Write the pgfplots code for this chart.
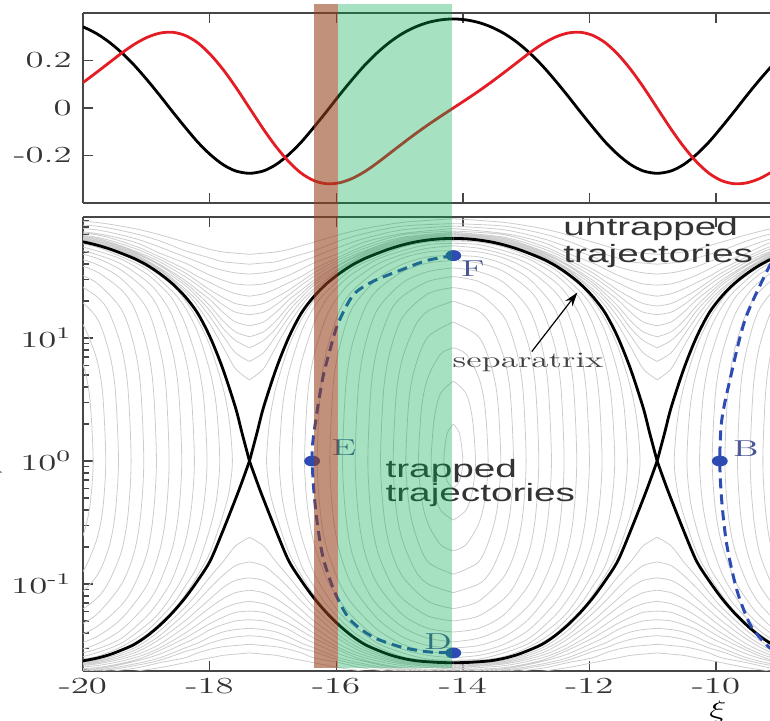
\documentclass[border=0pt]{standalone}
\usepackage{fontspec}
\newfontfamily\hvfont{Liberation Sans}
\usepackage{graphicx}
\usepackage{pgfplots}
\pgfplotsset{compat=1.18}
\usepackage{pgfplotstable}
\usetikzlibrary{arrows.meta}
\definecolor{cgray}{RGB}{204,204,204}
\definecolor{redline}{RGB}{228,28,36}
\definecolor{dblue}{RGB}{45,75,178}
\definecolor{lblue}{RGB}{72,86,150}
\definecolor{bandgreen}{RGB}{0,170,80}
\definecolor{bandbrown}{RGB}{150,65,30}
\definecolor{axgray}{RGB}{70,70,70}

% trapped orbits: half paths (r = distance from O-point), u = log10(v/v_s)
\pgfplotstableread{
r u
0 0.30
0.1 0.22
0.15 0
0.1 -0.16
0 -0.22
0 nan
0 0.65
0.2 0.55
0.3 0.35
0.35 0
0.3 -0.25
0.2 -0.40
0 -0.48
0 nan
0 0.92
0.2 0.87
0.4 0.68
0.5 0.44
0.55 0
0.5 -0.31
0.4 -0.51
0.2 -0.68
0 -0.73
0 nan
0 1.13
0.4 1.01
0.6 0.77
0.7 0.50
0.75 0
0.7 -0.36
0.6 -0.59
0.4 -0.82
0 -0.92
0 nan
0 1.30
0.4 1.22
0.6 1.10
0.8 0.84
0.9 0.55
0.95 0
0.9 -0.40
0.8 -0.65
0.6 -0.89
0.4 -1.00
0 -1.07
0 nan
0 1.41
0.4 1.36
0.8 1.17
1.0 0.89
1.1 0.58
1.15 0
1.1 -0.42
1.0 -0.70
0.8 -0.94
0.4 -1.14
0 -1.20
0 nan
0 1.50
0.4 1.46
0.8 1.34
1.0 1.21
1.2 0.92
1.3 0.59
1.35 0
1.3 -0.44
1.2 -0.73
1.0 -0.98
0.8 -1.12
0.4 -1.26
0 -1.30
0 nan
0 1.57
0.4 1.54
0.8 1.45
1.2 1.23
1.4 0.93
1.5 0.60
1.55 0
1.5 -0.44
1.4 -0.74
1.2 -1.00
0.8 -1.25
0.4 -1.36
0 -1.39
0 nan
0 1.63
0.4 1.61
0.8 1.54
1.2 1.39
1.4 1.24
1.6 0.94
1.7 0.60
1.75 0
1.7 -0.44
1.6 -0.75
1.4 -1.01
1.2 -1.17
0.8 -1.35
0.4 -1.44
0 -1.47
0 nan
0 1.67
0.4 1.66
0.8 1.60
1.2 1.48
1.6 1.24
1.8 0.92
1.9 0.60
1.95 0
1.9 -0.44
1.8 -0.73
1.6 -1.01
1.2 -1.28
0.8 -1.43
0.4 -1.50
0 -1.52
0 nan
0 1.71
0.4 1.70
0.8 1.65
1.2 1.55
1.6 1.38
1.8 1.22
2.0 0.90
2.1 0.57
2.15 0
2.1 -0.42
2.0 -0.71
1.8 -0.99
1.6 -1.16
1.2 -1.37
0.8 -1.49
0.4 -1.55
0 -1.56
0 nan
0 1.75
0.4 1.73
0.8 1.68
1.2 1.60
1.6 1.46
1.8 1.35
2.0 1.18
2.2 0.86
2.3 0.54
2.35 0
2.3 -0.39
2.2 -0.67
2.0 -0.96
1.8 -1.13
1.6 -1.26
1.2 -1.44
0.8 -1.53
0.4 -1.58
0 -1.60
0 nan
0 1.77
0.4 1.76
0.8 1.71
1.2 1.64
1.6 1.52
1.8 1.43
2.0 1.32
2.2 1.12
2.4 0.80
2.5 0.49
2.55 0
2.5 -0.35
2.4 -0.61
2.2 -0.91
2.0 -1.09
1.8 -1.23
1.6 -1.33
1.2 -1.48
0.8 -1.56
0.4 -1.61
0 -1.62
0 nan
0 1.79
0.4 1.78
0.8 1.74
1.2 1.66
1.6 1.56
2.0 1.38
2.2 1.25
2.4 1.05
2.6 0.72
2.7 0.43
2.75 0
2.7 -0.31
2.6 -0.54
2.4 -0.85
2.2 -1.02
2.0 -1.17
1.6 -1.38
1.2 -1.51
0.8 -1.59
0.4 -1.62
0 -1.63
0 nan
0 1.80
0.4 1.79
0.8 1.75
1.2 1.68
1.6 1.58
2.0 1.43
2.2 1.31
2.4 1.15
2.6 0.93
2.8 0.60
2.9 0.33
2.95 0
2.9 -0.24
2.8 -0.44
2.6 -0.74
2.4 -0.93
2.2 -1.09
2.0 -1.22
1.6 -1.41
1.2 -1.53
0.8 -1.60
0.4 -1.63
0 -1.64
}\tabTrapped

% untrapped orbits above the separatrix (half period)
\pgfplotstableread{
r u
0 1.82
0.8 1.77
1.4 1.66
1.8 1.55
2.2 1.38
2.4 1.26
2.6 1.11
2.8 0.93
3.0 0.75
3.22 0.66
0 nan
0 1.825
0.8 1.78
1.4 1.67
1.8 1.56
2.2 1.40
2.4 1.30
2.6 1.17
2.8 1.02
3.0 0.88
3.22 0.81
0 nan
0 1.83
0.8 1.785
1.4 1.68
1.8 1.57
2.2 1.43
2.4 1.33
2.6 1.22
2.8 1.08
3.0 0.98
3.22 0.92
0 nan
0 1.84
0.8 1.79
1.4 1.69
1.8 1.59
2.2 1.45
2.4 1.36
2.6 1.26
2.8 1.14
3.0 1.05
3.22 1.01
0 nan
0 1.844
0.8 1.80
1.4 1.70
1.8 1.60
2.2 1.47
2.4 1.39
2.6 1.31
2.8 1.21
3.0 1.13
3.22 1.10
0 nan
0 1.85
0.8 1.81
1.4 1.71
1.8 1.62
2.2 1.50
2.4 1.43
2.6 1.35
2.8 1.27
3.0 1.21
3.22 1.19
0 nan
0 1.86
0.8 1.82
1.4 1.73
1.8 1.64
2.2 1.53
2.4 1.46
2.6 1.39
2.8 1.33
3.0 1.28
3.22 1.26
0 nan
0 1.87
0.8 1.84
1.4 1.75
1.8 1.66
2.2 1.56
2.4 1.50
2.6 1.45
2.8 1.40
3.0 1.36
3.22 1.34
0 nan
0 1.89
0.8 1.85
1.4 1.78
1.8 1.69
2.2 1.61
2.4 1.56
2.6 1.51
2.8 1.47
3.0 1.44
3.22 1.43
0 nan
0 1.91
0.8 1.88
1.4 1.81
1.8 1.74
2.2 1.66
2.4 1.62
2.6 1.58
2.8 1.55
3.0 1.53
3.22 1.52
0 nan
0 1.93
0.8 1.91
1.4 1.85
1.8 1.79
2.2 1.71
2.4 1.68
2.6 1.65
2.8 1.62
3.0 1.61
3.22 1.60
0 nan
0 1.97
0.8 1.94
1.4 1.89
1.8 1.84
2.2 1.78
2.4 1.75
2.6 1.72
2.8 1.70
3.0 1.69
3.22 1.68
}\tabUpper

% untrapped orbits below the separatrix (half period)
\pgfplotstableread{
r u
0 -1.65
0.8 -1.62
1.4 -1.52
1.8 -1.38
2.2 -1.19
2.4 -1.07
2.6 -0.94
2.8 -0.82
3.0 -0.69
3.22 -0.62
0 nan
0 -1.66
0.8 -1.63
1.4 -1.54
1.8 -1.42
2.2 -1.24
2.4 -1.14
2.6 -1.03
2.8 -0.93
3.0 -0.85
3.22 -0.82
0 nan
0 -1.67
0.8 -1.64
1.4 -1.56
1.8 -1.45
2.2 -1.30
2.4 -1.21
2.6 -1.12
2.8 -1.03
3.0 -0.97
3.22 -0.95
0 nan
0 -1.68
0.8 -1.65
1.4 -1.58
1.8 -1.49
2.2 -1.35
2.4 -1.27
2.6 -1.19
2.8 -1.12
3.0 -1.07
3.22 -1.05
0 nan
0 -1.69
0.8 -1.664
1.4 -1.60
1.8 -1.52
2.2 -1.40
2.4 -1.33
2.6 -1.26
2.8 -1.20
3.0 -1.16
3.22 -1.14
0 nan
0 -1.70
0.8 -1.68
1.4 -1.62
1.8 -1.54
2.2 -1.44
2.4 -1.38
2.6 -1.32
2.8 -1.27
3.0 -1.23
3.22 -1.22
0 nan
0 -1.71
0.8 -1.69
1.4 -1.63
1.8 -1.57
2.2 -1.48
2.4 -1.43
2.6 -1.37
2.8 -1.33
3.0 -1.30
3.22 -1.29
0 nan
0 -1.72
0.8 -1.70
1.4 -1.65
1.8 -1.60
2.2 -1.52
2.4 -1.48
2.6 -1.43
2.8 -1.39
3.0 -1.37
3.22 -1.36
0 nan
0 -1.73
0.8 -1.71
1.4 -1.664
1.8 -1.62
2.2 -1.55
2.4 -1.52
2.6 -1.48
2.8 -1.45
3.0 -1.43
3.22 -1.42
0 nan
0 -1.745
0.8 -1.72
1.4 -1.685
1.8 -1.64
2.2 -1.60
2.4 -1.56
2.6 -1.53
2.8 -1.51
3.0 -1.50
3.22 -1.49
0 nan
0 -1.765
0.8 -1.75
1.4 -1.71
1.8 -1.68
2.2 -1.64
2.4 -1.62
2.6 -1.60
2.8 -1.58
3.0 -1.57
3.22 -1.56
}\tabLower

% separatrix (half period): upper branch, then lower branch
\pgfplotstableread{
r u
0 1.81
0.2 1.807
0.4 1.797
0.6 1.781
0.8 1.757
1.0 1.726
1.2 1.688
1.4 1.646
1.6 1.593
1.8 1.525
2.0 1.443
2.2 1.339
2.4 1.203
2.6 1.005
2.8 0.748
3.0 0.433
3.1 0.232
3.22 0
0 nan
0 -1.64
0.2 -1.638
0.4 -1.632
0.6 -1.623
0.8 -1.604
1.0 -1.576
1.2 -1.537
1.4 -1.491
1.6 -1.423
1.8 -1.337
2.0 -1.235
2.2 -1.115
2.4 -0.973
2.6 -0.811
2.8 -0.568
3.0 -0.308
3.1 -0.172
3.22 0
}\tabSep

\pgfplotsset{
  cont/.style={cgray, line width=0.4pt, smooth},
  sepst/.style={black, line width=1.4pt, smooth},
  every axis/.append style={
    scale only axis, width=343.5pt,
    xmin=-20, xmax=-9.147,
    axis y line*=left,
    axis line style={axgray, line width=0.9pt},
    every tick/.style={axgray, line width=0.7pt},
    major tick length=5pt, minor tick length=2.8pt,
    tick label style={font=\fontsize{11.5}{13}\selectfont, xscale=1.6, black!80},
    xtick={-20,-18,-16,-14,-12,-10},
    unbounded coords=jump,
    clip mode=individual,
  },
}

\begin{document}
\begin{tikzpicture}
% ---------------- bottom panel ----------------
\begin{axis}[
  at={(0pt,0pt)}, anchor=south west,
  height=227pt,
  ymin=-1.707, ymax=1.984,
  xticklabels={-20,-18,-16,-14,-12,-10},
  ytick={-1,0,1},
  yticklabels={10\textsuperscript{-1},10\textsuperscript{0},10\textsuperscript{1}},
  minor ytick={-1.699,-1.523,-1.398,-1.301,-1.222,-1.155,-1.097,-1.046,
    -0.699,-0.523,-0.398,-0.301,-0.222,-0.155,-0.097,-0.046,
    0.301,0.477,0.602,0.699,0.778,0.845,0.903,0.954,
    1.301,1.477,1.602,1.699,1.778,1.845,1.903,1.954},
]
% gray contours, three islands (O at -20.59, -14.15, -7.71)
\addplot[cont] table[x expr={\thisrow{r}-20.59}, y=u] {\tabTrapped};
\addplot[cont] table[x expr={\thisrow{r}-14.15}, y=u] {\tabTrapped};
\addplot[cont] table[x expr={-\thisrow{r}-14.15}, y=u] {\tabTrapped};
\addplot[cont] table[x expr={-\thisrow{r}-7.71}, y=u] {\tabTrapped};
\addplot[cont] table[x expr={\thisrow{r}-20.59}, y=u] {\tabUpper};
\addplot[cont] table[x expr={\thisrow{r}-14.15}, y=u] {\tabUpper};
\addplot[cont] table[x expr={-\thisrow{r}-14.15}, y=u] {\tabUpper};
\addplot[cont] table[x expr={-\thisrow{r}-7.71}, y=u] {\tabUpper};
\addplot[cont] table[x expr={\thisrow{r}-20.59}, y=u] {\tabLower};
\addplot[cont] table[x expr={\thisrow{r}-14.15}, y=u] {\tabLower};
\addplot[cont] table[x expr={-\thisrow{r}-14.15}, y=u] {\tabLower};
\addplot[cont] table[x expr={-\thisrow{r}-7.71}, y=u] {\tabLower};
% separatrix
\addplot[sepst] table[x expr={\thisrow{r}-20.59}, y=u] {\tabSep};
\addplot[sepst] table[x expr={\thisrow{r}-14.15}, y=u] {\tabSep};
\addplot[sepst] table[x expr={-\thisrow{r}-14.15}, y=u] {\tabSep};
\addplot[sepst] table[x expr={-\thisrow{r}-7.71}, y=u] {\tabSep};
% particle trajectories
\addplot[dblue, line width=1.5pt, dash pattern=on 5pt off 3pt, smooth] coordinates {
(-14.15,1.67)(-14.57,1.63)(-14.99,1.55)(-15.42,1.46)(-15.73,1.35)(-15.97,1.12)
(-16.10,0.90)(-16.21,0.68)(-16.30,0.41)(-16.37,0.15)(-16.38,0)(-16.35,-0.26)
(-16.29,-0.54)(-16.20,-0.80)(-16.02,-1.07)(-15.78,-1.29)(-15.42,-1.43)
(-14.99,-1.51)(-14.57,-1.55)(-14.15,-1.56)};
\addplot[dblue, line width=1.5pt, dash pattern=on 5pt off 3pt, smooth] coordinates {
(-9.12,1.60)(-9.18,1.56)(-9.54,1.15)(-9.78,0.66)(-9.91,0.33)(-9.94,0)
(-9.91,-0.32)(-9.83,-0.68)(-9.67,-1.05)(-9.46,-1.33)(-9.23,-1.48)(-9.12,-1.53)};
\addplot[only marks, mark=*, mark size=2.5pt, mark options={xscale=1.5, fill=dblue, draw=dblue}]
 coordinates {(-14.15,1.67)(-16.38,0)(-14.15,-1.56)(-9.94,0)};
% labels
\node[lblue, xscale=1.6, font=\fontsize{11.5}{13}\selectfont] at (axis cs:-13.84,1.56) {F};
\node[lblue, xscale=1.6, font=\fontsize{11.5}{13}\selectfont] at (axis cs:-15.88,0.106) {E};
\node[lblue, xscale=1.6, font=\fontsize{11.5}{13}\selectfont] at (axis cs:-14.39,-1.47) {D};
\node[lblue, xscale=1.6, font=\fontsize{11.5}{13}\selectfont] at (axis cs:-9.53,0.10) {B};
\node[anchor=base west, inner sep=0pt, xscale=1.55, black!80, font=\hvfont\fontsize{12.5}{14}\selectfont] at (axis cs:-12.42,1.837) {untrapped};
\node[anchor=base west, inner sep=0pt, xscale=1.55, black!80, font=\hvfont\fontsize{12.5}{14}\selectfont] at (axis cs:-12.42,1.61) {trajectories};
\node[anchor=base west, inner sep=0pt, xscale=1.55, black!80, font=\hvfont\fontsize{12.5}{14}\selectfont] at (axis cs:-15.23,-0.13) {trapped};
\node[anchor=base west, inner sep=0pt, xscale=1.55, black!80, font=\hvfont\fontsize{12.5}{14}\selectfont] at (axis cs:-15.23,-0.325) {trajectories};
\node[anchor=base, inner sep=0pt, xscale=1.6, black!75, font=\fontsize{11}{13}\selectfont] at (axis cs:-12.97,0.764) {separatrix};
\draw[black, line width=0.6pt, -{Stealth[length=7pt,width=4.5pt]}] (axis cs:-12.91,0.89) -- (axis cs:-12.19,1.37);
\node[xscale=1.5, font=\fontsize{13}{15}\selectfont] at (axis cs:-9.97,-1.707) [yshift=-20.5pt] {$\xi$};
\coordinate (bb1) at (axis cs:-16.35,-1.683);
\coordinate (bb2) at (axis cs:-15.97,-1.683);
\coordinate (bb3) at (axis cs:-14.17,-1.683);
\end{axis}
% ---------------- top panel ----------------
\begin{axis}[
  at={(0pt,234pt)}, anchor=south west,
  height=95pt,
  ymin=-0.4, ymax=0.4,
  xticklabels={},
  ytick={-0.2,0,0.2},
  yticklabels={-0.2,0,0.2},
]
\addplot[black, line width=1.4pt, smooth] coordinates {
(-20.00,0.342)(-19.79,0.314)(-19.59,0.278)(-19.39,0.233)(-19.19,0.180)(-18.99,0.119)
(-18.79,0.054)(-18.59,-0.014)(-18.39,-0.080)(-18.19,-0.143)(-17.99,-0.196)(-17.79,-0.238)
(-17.59,-0.265)(-17.37,-0.275)(-17.15,-0.265)(-16.95,-0.238)(-16.75,-0.196)(-16.55,-0.143)
(-16.35,-0.080)(-16.15,-0.014)(-15.95,0.054)(-15.75,0.119)(-15.55,0.180)(-15.35,0.233)
(-15.15,0.278)(-14.95,0.314)(-14.75,0.341)(-14.55,0.360)(-14.35,0.371)(-14.15,0.375)
(-13.95,0.371)(-13.75,0.360)(-13.55,0.341)(-13.35,0.314)(-13.15,0.278)(-12.95,0.233)
(-12.75,0.180)(-12.55,0.119)(-12.35,0.054)(-12.15,-0.014)(-11.95,-0.080)(-11.75,-0.143)
(-11.55,-0.196)(-11.35,-0.238)(-11.15,-0.265)(-10.93,-0.275)(-10.71,-0.265)(-10.51,-0.238)
(-10.31,-0.196)(-10.11,-0.143)(-9.91,-0.080)(-9.71,-0.014)(-9.51,0.054)(-9.31,0.119)(-9.11,0.180)};
\addplot[redline, line width=1.4pt, smooth] coordinates {
(-20.00,0.107)(-19.79,0.149)(-19.59,0.190)(-19.39,0.231)(-19.19,0.268)(-18.99,0.297)
(-18.79,0.315)(-18.59,0.319)(-18.39,0.306)(-18.19,0.275)(-17.99,0.226)(-17.79,0.163)
(-17.59,0.089)(-17.37,0.000)(-17.15,-0.089)(-16.95,-0.163)(-16.75,-0.226)(-16.55,-0.275)
(-16.35,-0.306)(-16.15,-0.319)(-15.95,-0.315)(-15.75,-0.297)(-15.55,-0.268)(-15.35,-0.231)
(-15.15,-0.190)(-14.95,-0.149)(-14.75,-0.109)(-14.55,-0.071)(-14.35,-0.035)(-14.15,0.000)
(-13.95,0.035)(-13.75,0.071)(-13.55,0.109)(-13.35,0.149)(-13.15,0.190)(-12.95,0.231)
(-12.75,0.268)(-12.55,0.297)(-12.35,0.315)(-12.15,0.319)(-11.95,0.306)(-11.75,0.275)
(-11.55,0.226)(-11.35,0.163)(-11.15,0.089)(-10.93,0.000)(-10.71,-0.089)(-10.51,-0.163)
(-10.31,-0.226)(-10.11,-0.275)(-9.91,-0.306)(-9.71,-0.319)(-9.51,-0.315)(-9.31,-0.297)(-9.11,-0.268)};
\coordinate (bt) at (axis cs:-16.35,0.438);
\end{axis}
% shaded bands over both panels
\fill[bandbrown, fill opacity=0.58] (bb1) rectangle (bb2 |- bt);
\fill[bandgreen, fill opacity=0.35] (bb2) rectangle (bb3 |- bt);
% y label (cut by the picture edge, as in the reference)
\node[rotate=90, anchor=south, font=\fontsize{11.5}{13}\selectfont] at (-37pt,103pt) {$v/v_{s}$};
\pgfresetboundingbox
\path[use as bounding box] (-41.5pt,-25pt) rectangle (343.5pt,335.5pt);
\end{tikzpicture}
\end{document}
